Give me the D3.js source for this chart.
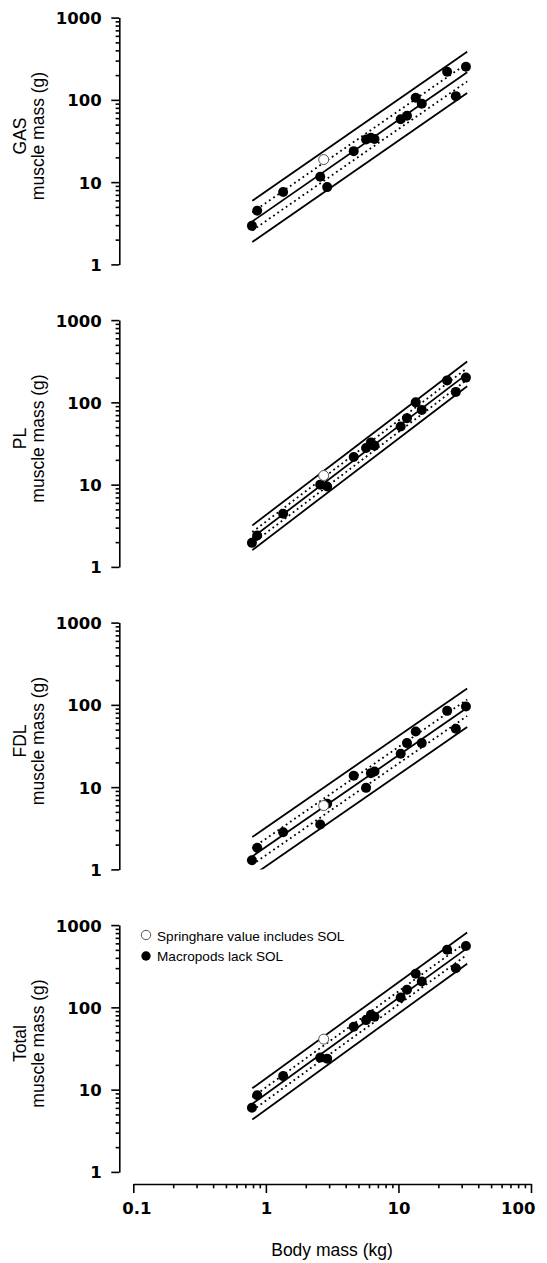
<!DOCTYPE html>
<meta charset="utf-8">
<style>
body { margin: 0; background: #fff; }
svg { display: block; }
.fit { fill: none; stroke: #000; stroke-width: 1.8px; }
.ci { fill: none; stroke: #000; stroke-width: 1.8px; stroke-dasharray: 1.8,3.3; }
.axis path, .axis line { stroke: #000; stroke-width: 1.6px; }
.axis text { font-family: "DejaVu Sans", sans-serif; font-weight: bold; font-size: 16.5px; fill: #000; }
.title { font-family: "Liberation Sans", Arial, sans-serif; font-size: 17.5px; fill: #000; }
.legend text { font-family: "Liberation Sans", Arial, sans-serif; font-size: 13.6px; fill: #000; }
</style>
<svg width="547" height="1263"></svg>
<script src="https://cdn.jsdelivr.net/npm/d3@7"></script>
<script>

// body mass (kg) of the 16 macropods, and of the springhare
var bodyMass = [0.785, 0.86, 1.35, 2.57, 2.9, 4.6, 5.7, 6.2, 6.6, 10.4, 11.6, 13.5, 15.0, 23.3, 27.1, 32.3];
var springhareMass = 2.73;

// muscle mass (g) for each panel, same order as bodyMass
var gasMass   = [2.94, 4.5, 7.6, 11.6, 8.7, 23.8, 33, 34.7, 33.5, 58, 64, 106, 90, 220, 111, 253];
var plMass    = [1.96, 2.41, 4.42, 10.0, 9.5, 21.7, 27.9, 32.6, 29.7, 51, 64.3, 100, 81, 185, 134, 200];
var fdlMass   = [1.29, 1.83, 2.83, 3.51, 6.3, 13.8, 9.8, 14.8, 15.5, 25.5, 34.3, 47.4, 34.3, 84.6, 51.2, 95.4];
var totalMass = [6.03, 8.55, 14.6, 24.5, 23.8, 58, 70, 81.4, 77, 132, 164, 256, 206, 502, 299, 556];
var springhareValues = [18.8, 12.9, 5.97, 41.1];

var panelNames = ["GAS", "PL", "FDL", "Total"];

// fitted line: range of body mass, value at start and end, half widths (log10 units)
var fitRange = [0.79, 33];
var fitStart = [3.33, 2.26, 1.44, 6.71];
var fitEnd   = [216, 222, 92.3, 525];
var ciHalf   = [0.11, 0.07, 0.10, 0.08];
var piHalf   = [0.25, 0.15, 0.235, 0.19];

var yTicks = [1, 10, 100, 1000];
var xTicks = [0.1, 1, 10, 100];

var svg = d3.select("svg");

var axisX = 119.3,
    panelTop = 17.6,
    panelStep = 302.5,
    panelH = 246.8;

var x = d3.scaleLog().domain([0.1, 100]).range([133.3, 531]);

function minorTicks(lo, hi) {
  var t = [];
  for (var d = lo; d < hi; d *= 10)
    for (var k = 2; k <= 9; k++) t.push(k * d);
  return t;
}

var panelData = [gasMass, plMass, fdlMass, totalMass];

panelData.forEach(function(values, i) {
  var top = panelTop + panelStep * i;
  var y = d3.scaleLog().domain([1, 1000]).range([top + panelH, top]);

  var g = svg.append("g");

  // clip to the plot area
  svg.append("clipPath").attr("id", "clip" + i)
    .append("rect")
    .attr("x", x(0.1)).attr("y", top)
    .attr("width", x(100) - x(0.1)).attr("height", panelH);

  // y axis
  var ya = g.append("g").attr("class", "axis").attr("transform", "translate(" + axisX + ",0)");
  ya.call(d3.axisLeft(y).tickValues(yTicks).tickFormat(d3.format("d"))
      .tickSize(8).tickSizeOuter(0).tickPadding(9.5));
  ya.append("g").call(d3.axisLeft(y).tickValues(minorTicks(1, 1000)).tickFormat("")
      .tickSize(3.7).tickSizeOuter(0))
    .select(".domain").remove();
  ya.selectAll("text").attr("dy", "0.36em");

  // y title
  var cy = top + panelH / 2 - 5;
  g.append("text").attr("class", "title")
    .attr("transform", "translate(26," + cy + ") rotate(-90)")
    .attr("text-anchor", "middle")
    .text(panelNames[i]);
  g.append("text").attr("class", "title")
    .attr("transform", "translate(44," + cy + ") rotate(-90)")
    .attr("text-anchor", "middle")
    .text("muscle mass (g)");

  // lines
  var lines = g.append("g").attr("clip-path", "url(#clip" + i + ")");
  var line = d3.line().x(function(d) { return x(d[0]); }).y(function(d) { return y(d[1]); });
  function shifted(off) {
    var f = Math.pow(10, off);
    return [[fitRange[0], fitStart[i] * f], [fitRange[1], fitEnd[i] * f]];
  }
  lines.append("path").attr("class", "fit").attr("d", line(shifted(0)));
  lines.append("path").attr("class", "fit").attr("d", line(shifted(piHalf[i])));
  lines.append("path").attr("class", "fit").attr("d", line(shifted(-piHalf[i])));
  lines.append("path").attr("class", "ci").attr("d", line(shifted(ciHalf[i])));
  lines.append("path").attr("class", "ci").attr("d", line(shifted(-ciHalf[i])));

  // macropods
  g.append("g").selectAll("circle")
    .data(values)
    .enter().append("circle")
    .attr("cx", function(d, j) { return x(bodyMass[j]); })
    .attr("cy", function(d) { return y(d); })
    .attr("r", 5)
    .attr("fill", "#000");

  // springhare
  g.append("circle")
    .attr("cx", x(springhareMass))
    .attr("cy", y(springhareValues[i]))
    .attr("r", 5)
    .attr("fill", "#fff")
    .attr("stroke", "#555")
    .attr("stroke-width", 1);
});

// x axis at the bottom
var xa = svg.append("g").attr("class", "axis").attr("transform", "translate(0,1184)");
xa.call(d3.axisBottom(x).tickValues(xTicks).tickFormat(function(d) { return d < 1 ? "0.1" : d3.format("d")(d); })
    .tickSize(9).tickSizeOuter(0).tickPadding(9.5));
xa.append("g").call(d3.axisBottom(x).tickValues(minorTicks(0.1, 100)).tickFormat("")
    .tickSize(4.3).tickSizeOuter(0))
  .select(".domain").remove();
// end labels sit a little inside, as in the original
xa.selectAll(".tick text")
  .attr("text-anchor", function(d) { return d === 100 ? "end" : "middle"; })
  .attr("x", function(d) { return d === 100 ? 4 : (d < 1 ? 3 : 0); });

svg.append("text").attr("class", "title")
  .attr("x", 332).attr("y", 1256)
  .attr("text-anchor", "middle")
  .text("Body mass (kg)");

// legend
var legend = svg.append("g").attr("class", "legend");
legend.append("circle").attr("cx", 146).attr("cy", 935).attr("r", 4.7)
  .attr("fill", "#fff").attr("stroke", "#555").attr("stroke-width", 1);
legend.append("text").attr("x", 157).attr("y", 940.5).text("Springhare value includes SOL");
legend.append("circle").attr("cx", 146).attr("cy", 956).attr("r", 4.7).attr("fill", "#000");
legend.append("text").attr("x", 157).attr("y", 961).text("Macropods lack SOL");

</script>
